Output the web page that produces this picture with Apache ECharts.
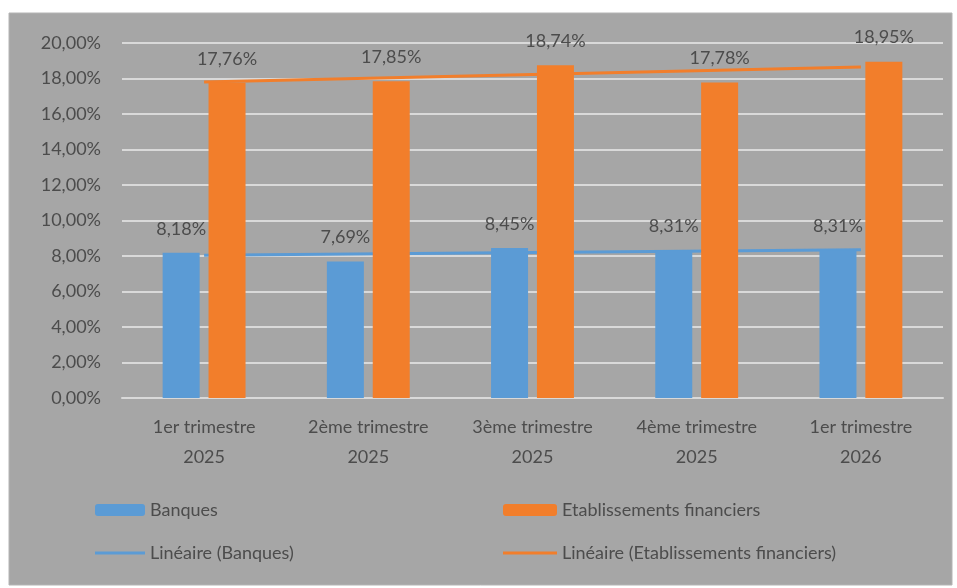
<!DOCTYPE html>
<html>
<head>
<meta charset="utf-8">
<script src="https://cdn.jsdelivr.net/npm/echarts@6/dist/echarts.min.js"></script>
<style>
  html, body { margin: 0; padding: 0; background: #ffffff; }
  #chart { width: 957px; height: 588px; }
</style>
</head>
<body>
<div id="chart"></div>
<script>
// categories and values
var categories = ['1er trimestre\n2025', '2ème trimestre\n2025', '3ème trimestre\n2025', '4ème trimestre\n2025', '1er trimestre\n2026'];
var banques = [8.18, 7.69, 8.45, 8.31, 8.31];
var etablissements = [17.76, 17.85, 18.74, 17.78, 18.95];
// trend lines: only the end points
var trendBanques = [8.04, null, null, null, 8.35];
var trendEtablissements = [17.8, null, null, null, 18.65];
var yTicks = [0, 2, 4, 6, 8, 10, 12, 14, 16, 18, 20];

var blue = '#5b9bd5';
var orange = '#f27e2b';
var textColor = '#4c4c4c';
var font = 'Lato';
var lineIcon = 'path://M0,0h50v3H0z';

function pct(v) {
  return v.toFixed(2).replace('.', ',') + '%';
}

var chart = echarts.init(document.getElementById('chart'));

var option = {
  backgroundColor: '#ffffff',
  animation: false,
  textStyle: { fontFamily: font },
  graphic: [{
    type: 'rect',
    z: -10,
    shape: { x: 9, y: 13, width: 943, height: 572 },
    style: { fill: '#a6a6a6', stroke: '#b4b4b4', lineWidth: 1 }
  }],
  grid: { left: 122, right: 14, top: 43, bottom: 190, containLabel: false },
  legend: [{
    orient: 'vertical',
    left: 90,
    top: 496,
    itemWidth: 50,
    itemHeight: 12,
    itemGap: 25,
    textStyle: { color: textColor, fontSize: 18, fontFamily: font },
    data: ['Banques', { name: 'Linéaire (Banques)', icon: lineIcon }]
  }, {
    orient: 'vertical',
    left: 498,
    top: 496,
    itemWidth: 54,
    itemHeight: 12,
    itemGap: 25,
    textStyle: { color: textColor, fontSize: 18, fontFamily: font },
    data: ['Etablissements financiers', { name: 'Linéaire (Etablissements financiers)', icon: lineIcon }]
  }],
  xAxis: {
    type: 'category',
    data: categories,
    axisTick: { show: false },
    axisLine: { lineStyle: { color: '#d9d9d9', width: 2 } },
    axisLabel: {
      color: textColor,
      fontSize: 18,
      lineHeight: 30,
      margin: 14,
      interval: 0
    }
  },
  yAxis: {
    type: 'value',
    min: yTicks[0],
    max: yTicks[yTicks.length - 1],
    interval: 2,
    axisLine: { show: false },
    axisTick: { show: false },
    splitLine: { lineStyle: { color: '#d9d9d9', width: 2 } },
    axisLabel: {
      color: textColor,
      fontSize: 18,
      margin: 21,
      formatter: function (v) { return pct(v); }
    }
  },
  series: [{
    name: 'Banques',
    type: 'bar',
    data: banques,
    barWidth: 37,
    barGap: '24%',
    z: 3,
    itemStyle: { color: blue },
    label: {
      show: true,
      position: 'top',
      distance: 15,
      color: textColor,
      fontSize: 18,
      formatter: function (p) { return pct(p.value); }
    }
  }, {
    name: 'Etablissements financiers',
    type: 'bar',
    data: etablissements,
    barWidth: 37,
    z: 3,
    itemStyle: { color: orange },
    label: {
      show: true,
      position: 'top',
      distance: 15,
      color: textColor,
      fontSize: 18,
      formatter: function (p) { return pct(p.value); }
    }
  }, {
    name: 'Linéaire (Banques)',
    type: 'line',
    data: trendBanques,
    connectNulls: true,
    symbol: 'none',
    z: 2,
    lineStyle: { color: blue, width: 3 },
    itemStyle: { color: blue }
  }, {
    name: 'Linéaire (Etablissements financiers)',
    type: 'line',
    data: trendEtablissements,
    connectNulls: true,
    symbol: 'none',
    z: 2,
    lineStyle: { color: orange, width: 3 },
    itemStyle: { color: orange }
  }]
};

chart.setOption(option);
</script>
</body>
</html>
